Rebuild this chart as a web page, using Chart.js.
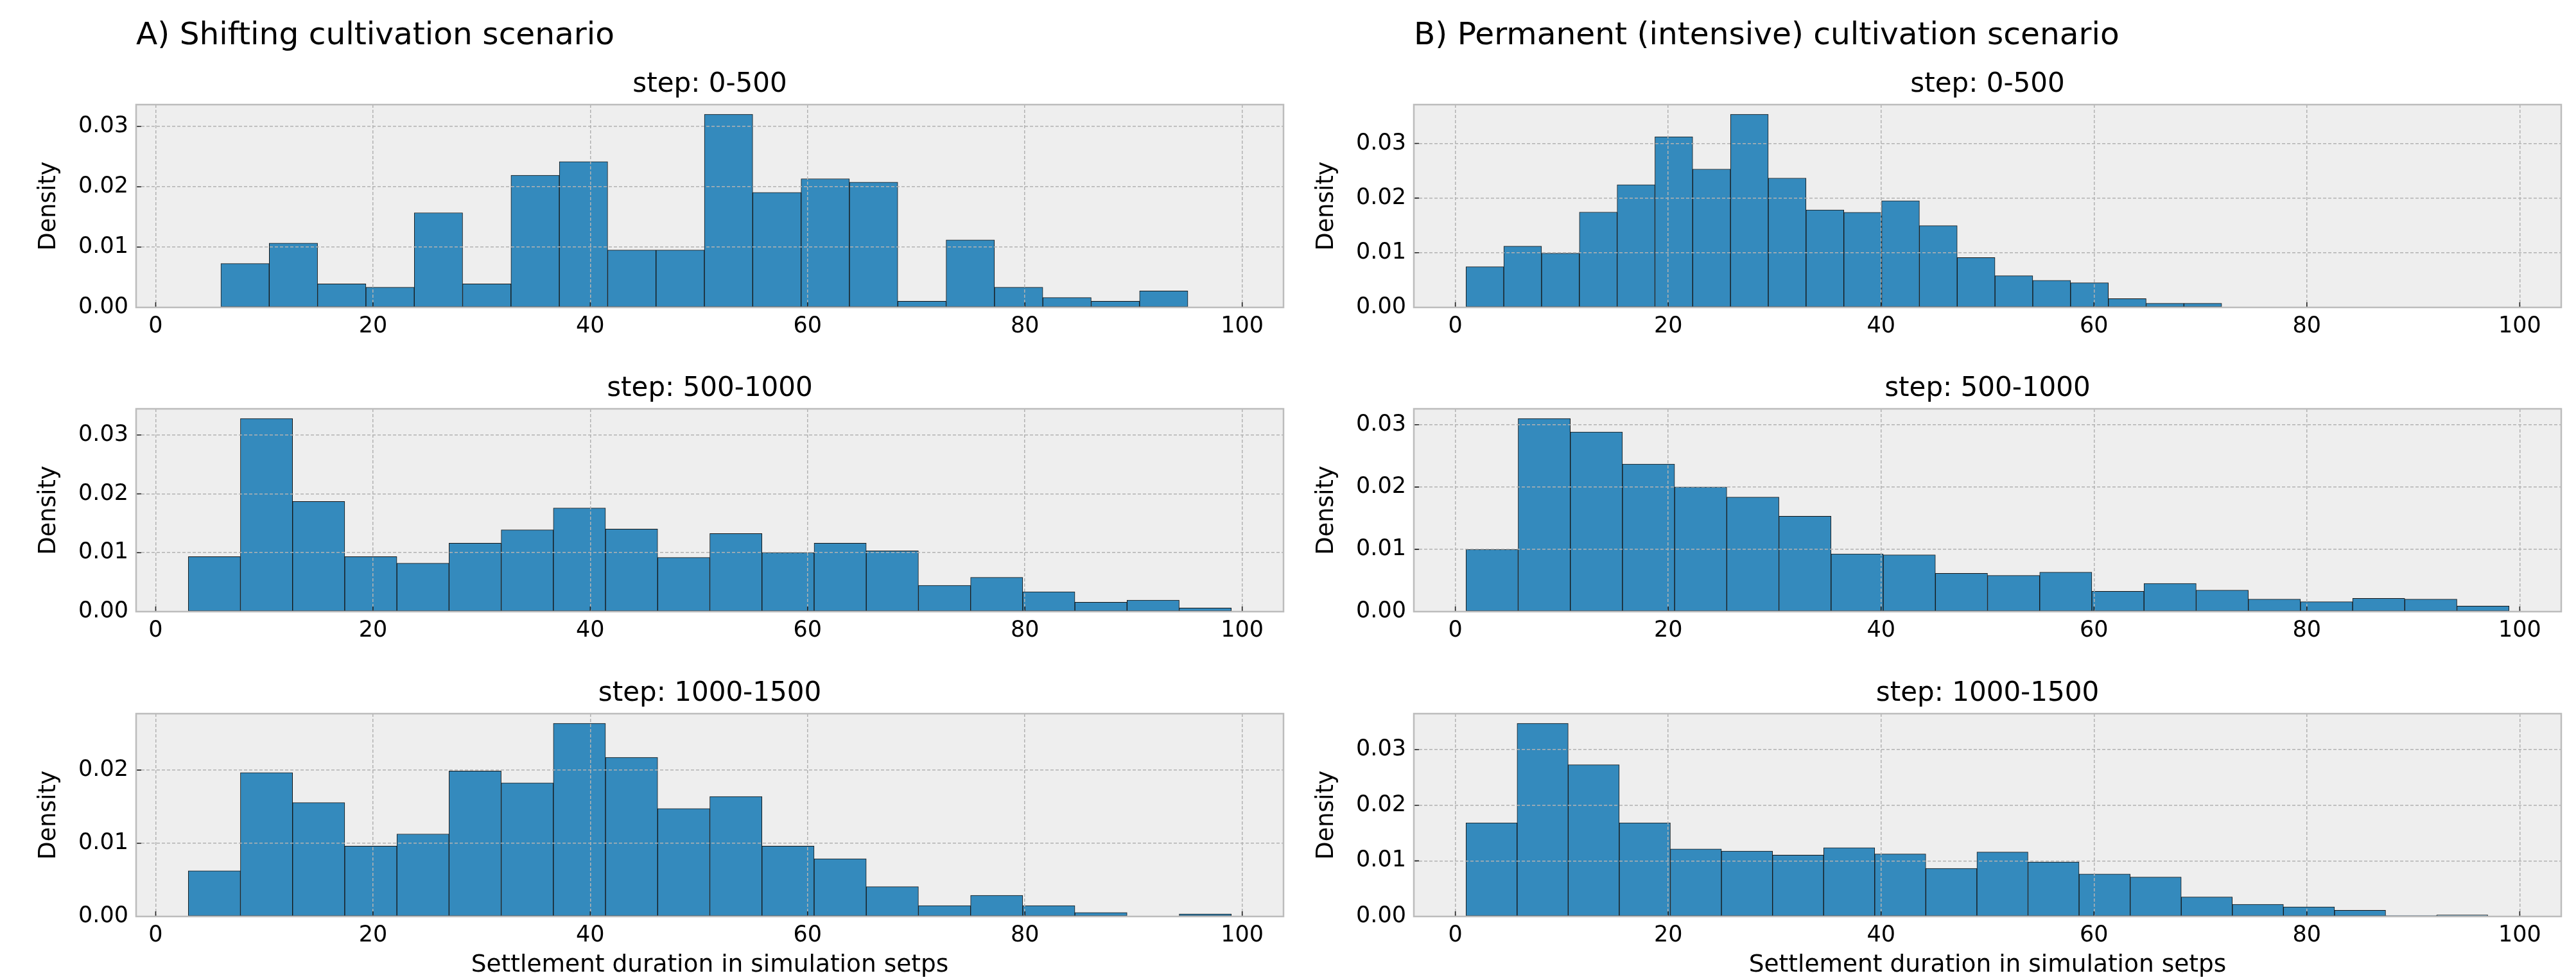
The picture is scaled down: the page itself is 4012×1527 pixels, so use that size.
<!DOCTYPE html>
<html>
<head>
<meta charset="utf-8">
<script src="https://cdn.jsdelivr.net/npm/chart.js@4.4.1/dist/chart.umd.min.js"></script>
<style>
  body { margin: 0; background: #fff; width: 4012px; height: 1527px; position: relative; overflow: hidden; font-family: 'DejaVu Sans', sans-serif; }
  canvas { position: absolute; }
  .suptitle { position: absolute; font-size: 48.6px; line-height: 1; color: #000; white-space: nowrap; }
</style>
</head>
<body>
<div class="suptitle" style="left:212px; top:28px">A) Shifting cultivation scenario</div>
<div class="suptitle" style="left:2202px; top:28px">B) Permanent (intensive) cultivation scenario</div>
<canvas id="a1"></canvas>
<canvas id="a2"></canvas>
<canvas id="a3"></canvas>
<canvas id="b1"></canvas>
<canvas id="b2"></canvas>
<canvas id="b3"></canvas>
<script>
// Histogram data: [first edge, last edge] of 20 equal bins, then density per bin
const binRangeA1 = [6, 95];
const densityA1 = [0.00728, 0.01065, 0.00390, 0.00334, 0.01569, 0.00390, 0.02190, 0.02417, 0.00951, 0.00951,
                   0.03202, 0.01906, 0.02133, 0.02077, 0.00103, 0.01118, 0.00334, 0.00163, 0.00103, 0.00273];
const binRangeA2 = [3, 99];
const densityA2 = [0.00933, 0.03280, 0.01871, 0.00933, 0.00821, 0.01162, 0.01388, 0.01758, 0.01402, 0.00919,
                   0.01326, 0.01003, 0.01162, 0.01032, 0.00447, 0.00581, 0.00338, 0.00160, 0.00196, 0.00062];
const binRangeA3 = [3, 99];
const densityA3 = [0.00625, 0.01965, 0.01556, 0.00961, 0.01127, 0.01988, 0.01825, 0.02639, 0.02175, 0.01474,
                   0.01638, 0.00961, 0.00788, 0.00406, 0.00149, 0.00289, 0.00149, 0.00055, 0, 0.00035];
const binRangeB1 = [1, 72];
const densityB1 = [0.00744, 0.01120, 0.00991, 0.01743, 0.02244, 0.03122, 0.02530, 0.03533, 0.02366, 0.01782,
                   0.01739, 0.01951, 0.01496, 0.00913, 0.00580, 0.00494, 0.00450, 0.00161, 0.00074, 0.00074];
const binRangeB2 = [1, 99];
const densityB2 = [0.00999, 0.03100, 0.02884, 0.02369, 0.02001, 0.01837, 0.01531, 0.00927, 0.00910, 0.00614,
                   0.00580, 0.00632, 0.00326, 0.00453, 0.00343, 0.00199, 0.00158, 0.00213, 0.00199, 0.00089];
const binRangeB3 = [1, 97];
const densityB3 = [0.01685, 0.03473, 0.02727, 0.01685, 0.01215, 0.01177, 0.01104, 0.01238, 0.01123, 0.00865,
                   0.01158, 0.00981, 0.00765, 0.00708, 0.00350, 0.00219, 0.00173, 0.00112, 0.00015, 0.00027];

const stepTitles = ['step: 0-500', 'step: 500-1000', 'step: 1000-1500'];
const xTicks = [0, 20, 40, 60, 80, 100];
const yTicks = [0, 0.01, 0.02, 0.03];
const xLabel = 'Settlement duration in simulation setps';
const yLabel = 'Density';

Chart.defaults.font.family = "'DejaVu Sans', sans-serif";
Chart.defaults.color = '#000';

// Layout (px)
const colLeft = [212, 2202];
const plotW = 1787;
const rowTop = [163, 637, 1112];
const plotH = 316;
const yAxisW = 200, padRight = 20, titleH = 120;

// axes background, spines and inward tick marks (bmh look)
const panelFrame = {
  id: 'panelFrame',
  beforeDraw(chart) {
    const {ctx, chartArea: a} = chart;
    ctx.save();
    ctx.fillStyle = '#eeeeee';
    ctx.fillRect(a.left, a.top, a.width, a.height);
    ctx.restore();
  },
  afterDraw(chart) {
    const {ctx, chartArea: a, scales} = chart;
    ctx.save();
    ctx.strokeStyle = '#222';
    ctx.lineWidth = 1.6;
    ctx.beginPath();
    scales.x.ticks.forEach(t => {
      const px = scales.x.getPixelForValue(t.value);
      ctx.moveTo(px, a.bottom);
      ctx.lineTo(px, a.bottom - 8);
    });
    scales.y.ticks.forEach(t => {
      const py = scales.y.getPixelForValue(t.value);
      ctx.moveTo(a.left, py);
      ctx.lineTo(a.left + 8, py);
    });
    ctx.stroke();
    ctx.strokeStyle = '#bcbcbc';
    ctx.lineWidth = 2.5;
    ctx.strokeRect(a.left, a.top, a.width, a.height);
    ctx.restore();
  }
};

function colRange(ranges) {
  const lo = Math.min(...ranges.map(r => r[0]));
  const hi = Math.max(...ranges.map(r => r[1]));
  const m = 0.05 * (hi - lo);
  return [lo - m, hi + m];
}
const xRangeA = colRange([binRangeA1, binRangeA2, binRangeA3]);
const xRangeB = colRange([binRangeB1, binRangeB2, binRangeB3]);

function makeHist(id, range, values, col, row, xRange) {
  const n = values.length;
  const w = (range[1] - range[0]) / n;
  const points = values.map((v, i) => ({x: range[0] + w * (i + 0.5), y: v}));
  const xH = row === 2 ? 110 : 60;

  const canvas = document.getElementById(id);
  canvas.width = yAxisW + plotW + padRight;
  canvas.height = titleH + plotH + xH;
  canvas.style.left = (colLeft[col] - yAxisW) + 'px';
  canvas.style.top = (rowTop[row] - titleH) + 'px';

  new Chart(canvas, {
    type: 'bar',
    data: {
      datasets: [{
        data: points,
        backgroundColor: '#348ABD',
        borderColor: '#151515',
        borderWidth: 1,
        borderSkipped: false,
        barPercentage: 1.0,
        categoryPercentage: 1.0
      }]
    },
    options: {
      responsive: false,
      animation: false,
      devicePixelRatio: 1,
      events: [],
      layout: { padding: { left: 0, right: padRight, top: 0, bottom: 0 } },
      plugins: {
        legend: { display: false },
        tooltip: { enabled: false },
        title: {
          display: true,
          text: stepTitles[row],
          fullSize: false,
          color: '#000',
          font: { size: 42, weight: 'normal' },
          padding: { top: 63.6, bottom: 6 }
        }
      },
      scales: {
        x: {
          type: 'linear',
          min: xRange[0],
          max: xRange[1],
          bounds: 'data',
          offset: false,
          afterBuildTicks: s => { s.ticks = xTicks.map(v => ({value: v})); },
          afterFit: s => { s.height = xH; },
          ticks: {
            font: { size: 35 },
            color: '#000',
            padding: 9,
            maxRotation: 0,
            autoSkip: false,
            callback: v => String(v)
          },
          grid: { z: 1, offset: false, color: '#b2b2b2', lineWidth: 1.5, drawTicks: false },
          border: { display: false, dash: [5, 3] },
          title: {
            display: row === 2,
            text: xLabel,
            font: { size: 37.5 },
            color: '#000',
            padding: { top: 0, bottom: 11 }
          }
        },
        y: {
          min: 0,
          max: 1.05 * Math.max(...values),
          bounds: 'data',
          afterBuildTicks: s => { s.ticks = yTicks.filter(v => v <= s.max).map(v => ({value: v})); },
          afterFit: s => { s.width = yAxisW; },
          ticks: {
            font: { size: 35 },
            color: '#000',
            padding: 12,
            callback: v => Number(v).toFixed(2)
          },
          grid: { z: 1, color: '#b2b2b2', lineWidth: 1.5, drawTicks: false },
          border: { display: false, dash: [5, 3] },
          title: {
            display: true,
            text: yLabel,
            font: { size: 36.5 },
            color: '#000',
            padding: { top: 43, bottom: 0 }
          }
        }
      }
    },
    plugins: [panelFrame]
  });
}

makeHist('a1', binRangeA1, densityA1, 0, 0, xRangeA);
makeHist('a2', binRangeA2, densityA2, 0, 1, xRangeA);
makeHist('a3', binRangeA3, densityA3, 0, 2, xRangeA);
makeHist('b1', binRangeB1, densityB1, 1, 0, xRangeB);
makeHist('b2', binRangeB2, densityB2, 1, 1, xRangeB);
makeHist('b3', binRangeB3, densityB3, 1, 2, xRangeB);
</script>
</body>
</html>
